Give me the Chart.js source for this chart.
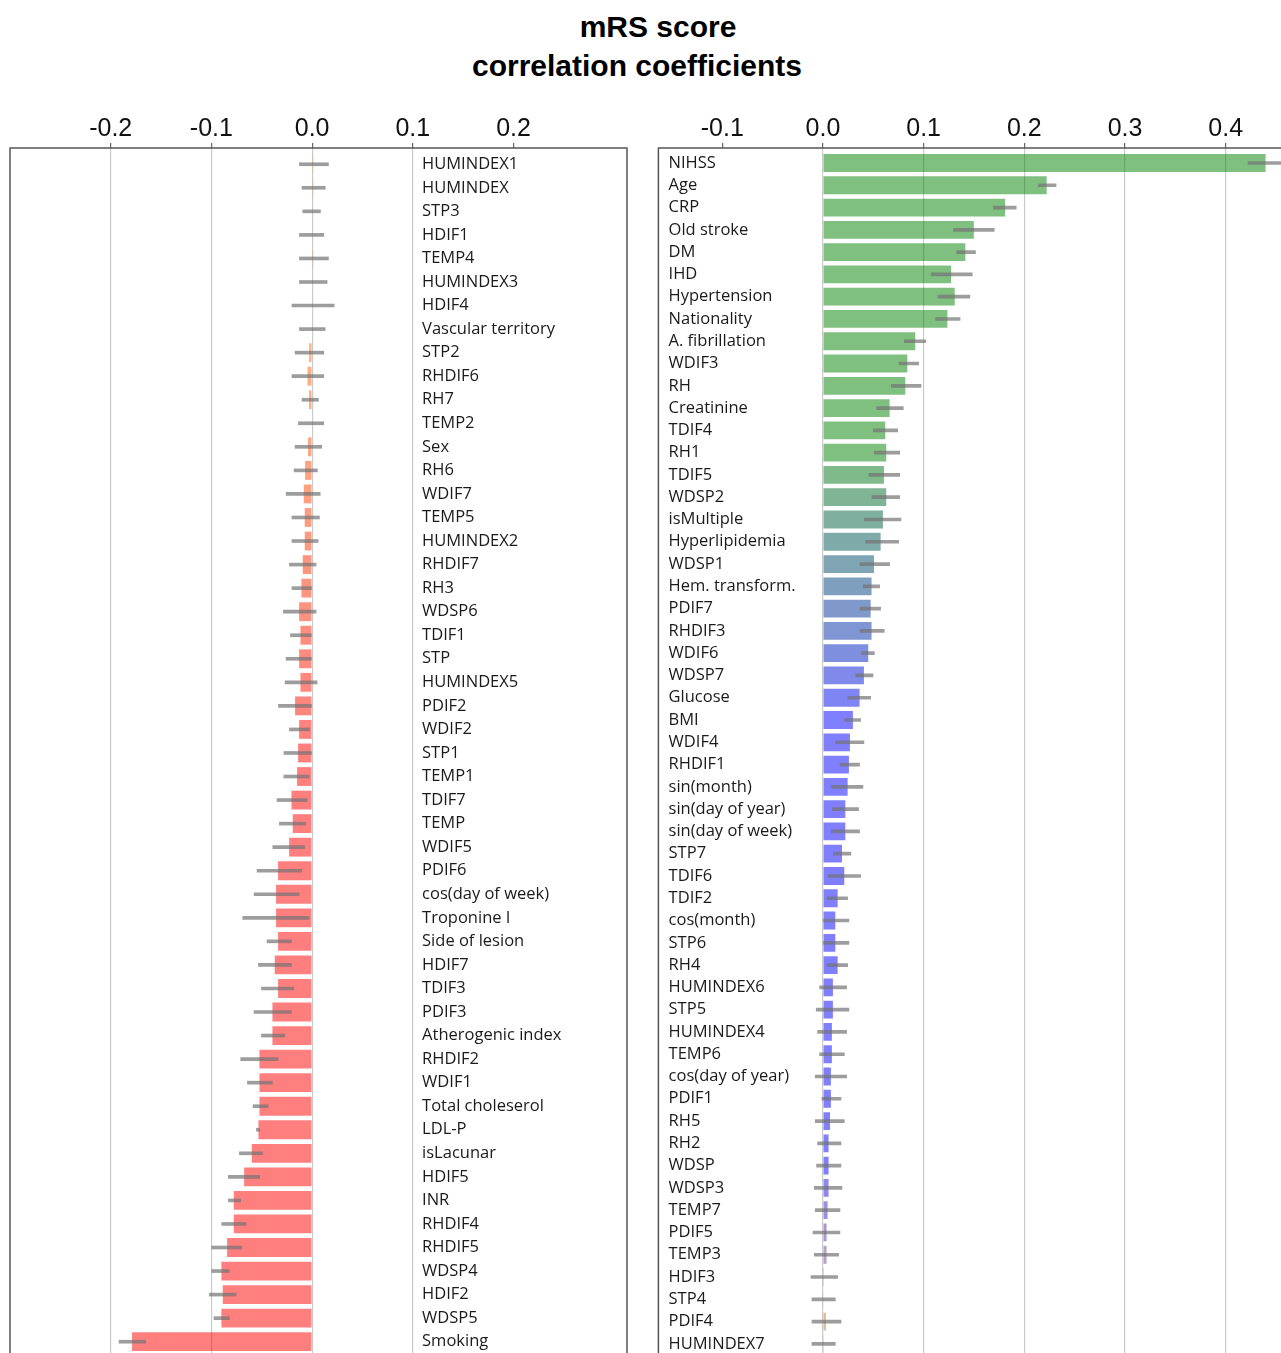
<!DOCTYPE html>
<html><head><meta charset="utf-8">
<script src="https://cdn.jsdelivr.net/npm/chart.js@4.4.1/dist/chart.umd.min.js"></script>
<style>
html,body{margin:0;padding:0;background:#fff;width:1281px;height:1353px;overflow:hidden;}
#wrap{position:relative;width:1281px;height:1353px;}
.t{position:absolute;font:bold 30px "Liberation Sans",Arial,sans-serif;color:#000;white-space:nowrap;transform:translateX(-50%);line-height:30px;}
canvas{position:absolute;top:0;}
</style></head><body>
<div id="wrap">
<div class="t" style="left:658px;top:12px">mRS score</div>
<div class="t" style="left:637px;top:51px">correlation coefficients</div>
<canvas id="cl" width="640" height="1353" style="left:0;width:640px;height:1353px"></canvas>
<canvas id="cr" width="641" height="1353" style="left:640px;width:641px;height:1353px"></canvas>
</div>
<script>
// ---------- DATA ----------
const leftLabels = ["HUMINDEX1","HUMINDEX","STP3","HDIF1","TEMP4","HUMINDEX3","HDIF4","Vascular territory","STP2","RHDIF6","RH7","TEMP2","Sex","RH6","WDIF7","TEMP5","HUMINDEX2","RHDIF7","RH3","WDSP6","TDIF1","STP","HUMINDEX5","PDIF2","WDIF2","STP1","TEMP1","TDIF7","TEMP","WDIF5","PDIF6","cos(day of week)","Troponine I","Side of lesion","HDIF7","TDIF3","PDIF3","Atherogenic index","RHDIF2","WDIF1","Total choleserol","LDL-P","isLacunar","HDIF5","INR","RHDIF4","RHDIF5","WDSP4","HDIF2","WDSP5","Smoking"];
const leftValues = [0.001,0.001,0.0,0.0,0.001,0.0,0.0,0.0,-0.003,-0.0046,-0.003,0.0,-0.004,-0.007,-0.0083,-0.0073,-0.0073,-0.0093,-0.0106,-0.0129,-0.0116,-0.0129,-0.0116,-0.0169,-0.0129,-0.0139,-0.0149,-0.0205,-0.0192,-0.0228,-0.0338,-0.0358,-0.0358,-0.0338,-0.0371,-0.0338,-0.0394,-0.0394,-0.0523,-0.0523,-0.0523,-0.0533,-0.0599,-0.0675,-0.0778,-0.0778,-0.0844,-0.0901,-0.0887,-0.0901,-0.1788];
const leftErrLow = [-0.0126,-0.010,-0.0093,-0.0126,-0.0126,-0.0126,-0.020,-0.0126,-0.0169,-0.020,-0.010,-0.0136,-0.0169,-0.0179,-0.0258,-0.020,-0.020,-0.0225,-0.020,-0.0285,-0.0215,-0.0258,-0.0268,-0.0334,-0.0225,-0.028,-0.0281,-0.0348,-0.0325,-0.039,-0.0546,-0.0576,-0.0689,-0.0447,-0.0533,-0.0503,-0.0576,-0.0503,-0.0709,-0.0642,-0.0586,-0.0553,-0.0722,-0.0831,-0.0831,-0.0897,-0.0997,-0.0997,-0.102,-0.0974,-0.1917];
const leftErrHigh = [0.0162,0.013,0.0083,0.0116,0.0162,0.0149,0.0219,0.0129,0.0116,0.0116,0.0063,0.0116,0.0096,0.0053,0.008,0.0073,0.006,0.004,0.0,0.004,-0.0007,-0.0007,0.005,0.0,-0.0026,0.0,-0.003,-0.005,-0.0063,-0.0073,-0.0103,-0.0129,-0.003,-0.0205,-0.0205,-0.0182,-0.0205,-0.0272,-0.0338,-0.0394,-0.0437,-0.052,-0.0493,-0.052,-0.0709,-0.0656,-0.0699,-0.0821,-0.0755,-0.0821,-0.1652];

const rightLabels = ["NIHSS","Age","CRP","Old stroke","DM","IHD","Hypertension","Nationality","A. fibrillation","WDIF3","RH","Creatinine","TDIF4","RH1","TDIF5","WDSP2","isMultiple","Hyperlipidemia","WDSP1","Hem. transform.","PDIF7","RHDIF3","WDIF6","WDSP7","Glucose","BMI","WDIF4","RHDIF1","sin(month)","sin(day of year)","sin(day of week)","STP7","TDIF6","TDIF2","cos(month)","STP6","RH4","HUMINDEX6","STP5","HUMINDEX4","TEMP6","cos(day of year)","PDIF1","RH5","RH2","WDSP","WDSP3","TEMP7","PDIF5","TEMP3","HDIF3","STP4","PDIF4","HUMINDEX7"];
const rightValues = [0.4396,0.2222,0.181,0.1499,0.1414,0.1273,0.1309,0.1236,0.0917,0.0838,0.0818,0.0662,0.0619,0.0629,0.0606,0.0629,0.0596,0.0573,0.0507,0.0483,0.0474,0.0483,0.045,0.0407,0.0364,0.0298,0.0268,0.0258,0.0245,0.0222,0.0222,0.0189,0.0212,0.0146,0.0123,0.0123,0.0146,0.0099,0.0099,0.0089,0.0089,0.0079,0.0079,0.007,0.0056,0.0056,0.0056,0.0046,0.0036,0.0036,0.001,0.0007,0.003,0.001];
const rightErrLow = [0.4222,0.2141,0.1693,0.1297,0.1329,0.1075,0.1143,0.1119,0.0808,0.0755,0.0679,0.0533,0.05,0.051,0.0457,0.0487,0.0411,0.0424,0.0368,0.0401,0.0368,0.0368,0.0384,0.0325,0.0248,0.0215,0.0126,0.0169,0.0083,0.0093,0.0083,0.0103,0.005,0.004,0.0,0.0,0.004,-0.0033,-0.0066,-0.0053,-0.0033,-0.0076,-0.001,-0.0076,-0.0053,-0.0063,-0.0086,-0.0076,-0.0099,-0.0086,-0.0119,-0.0109,-0.0109,-0.0109];
const rightErrHigh = [0.458,0.2315,0.1919,0.1701,0.1515,0.1483,0.1459,0.1362,0.102,0.095,0.0974,0.0798,0.0742,0.0762,0.0762,0.0762,0.0775,0.0752,0.0662,0.0563,0.0573,0.0609,0.051,0.0497,0.0474,0.0374,0.0407,0.0364,0.0397,0.0354,0.0364,0.0278,0.0374,0.0245,0.0258,0.0258,0.0245,0.0235,0.0258,0.0235,0.0212,0.0235,0.0179,0.0212,0.0179,0.0179,0.0189,0.0169,0.0169,0.0156,0.0146,0.0123,0.0179,0.0123];

const leftTicks = [-0.2, -0.1, 0.0, 0.1, 0.2];
const rightTicks = [-0.1, 0.0, 0.1, 0.2, 0.3, 0.4];

// ---------- STYLE ----------
const colorStops = [[0,[0,128,0]],[13,[0,128,0]],[25,[0,0,255]],[45,[0,0,255]],[54,[255,150,0]],[79,[255,0,0]],[104,[255,0,0]]];
function rankColor(r){
  for (let k = 0; k < colorStops.length - 1; k++){
    const [r0,c0] = colorStops[k], [r1,c1] = colorStops[k+1];
    if (r >= r0 && r <= r1){
      const t = r1 === r0 ? 0 : (r - r0) / (r1 - r0);
      const c = c0.map((v,j) => Math.round(v + (c1[j]-v)*t));
      return `rgba(${c[0]},${c[1]},${c[2]},0.5)`;
    }
  }
  return 'rgba(255,0,0,0.5)';
}

const framePlugin = {
  id: 'frame',
  afterDraw(chart, args, opts){
    const {ctx, chartArea: a} = chart;
    ctx.save();
    ctx.strokeStyle = '#555';
    ctx.lineWidth = 1.5;
    ctx.beginPath();
    ctx.moveTo(a.left, a.bottom); ctx.lineTo(a.left, a.top); ctx.lineTo(a.right, a.top);
    if (opts.right) ctx.lineTo(a.right, a.bottom);
    ctx.stroke();
    ctx.restore();
  }
};
const rowLabelPlugin = {
  id: 'rowLabels',
  afterDatasetsDraw(chart, args, opts){
    const {ctx} = chart;
    const xs = chart.scales.x, ys = chart.scales.y;
    const x = xs.getPixelForValue(opts.at);
    ctx.save();
    ctx.font = '16.5px "Open Sans", sans-serif';
    ctx.fillStyle = '#1a1a1a';
    ctx.textAlign = 'left';
    ctx.textBaseline = 'middle';
    chart.data.labels.forEach((t, i) => ctx.fillText(t, x, ys.getPixelForValue(i)));
    ctx.restore();
  }
};

function makeChart(id, c){
  return new Chart(document.getElementById(id), {
    type: 'bar',
    data: {
      labels: c.labels,
      datasets: [
        { label: 'error', data: c.labels.map((_, i) => ({x: [c.lo[i], c.hi[i]], y: i})),
          backgroundColor: 'rgba(115,115,115,0.7)', barThickness: 3, grouped: false, order: 0 },
        { label: 'coefficient', data: c.labels.map((_, i) => ({x: c.values[i], y: i})),
          backgroundColor: ctx => rankColor(c.rankOffset + ctx.dataIndex),
          barPercentage: 0.8, categoryPercentage: 1, grouped: false, order: 1 }
      ]
    },
    options: {
      indexAxis: 'y', responsive: false, animation: false, events: [],
      layout: { padding: c.pad },
      plugins: { legend: {display: false}, tooltip: {enabled: false},
        frame: { right: c.frameRight }, rowLabels: { at: c.labelAt } },
      scales: {
        x: { type: 'linear', position: 'top', min: c.xMin, max: c.xMax, offset: false,
          afterBuildTicks: s => { s.ticks = c.ticks.map(v => ({value: v})); },
          ticks: { font: {family: '"Liberation Sans", Arial, sans-serif', size: 25, lineHeight: 1.05},
                   color: '#111', padding: 1, maxRotation: 0, autoSkip: false,
                   callback: v => Number(v).toFixed(1) },
          grid: { offset: false, color: g => (g.tick && c.noGrid.includes(g.tick.value)) ? 'rgba(0,0,0,0)' : '#cbcbcb',
                  tickColor: '#666', tickLength: 5, lineWidth: 1.2 },
          border: { display: false } },
        y: { type: 'linear', reverse: true, min: c.yMin, max: c.yMax, display: false, offset: false,
          grid: { offset: false },
          afterBuildTicks: s => { s.ticks = c.labels.map((_, i) => ({value: i})); } }
      }
    },
    plugins: [framePlugin, rowLabelPlugin]
  });
}

makeChart('cl', { labels: leftLabels, values: leftValues, lo: leftErrLow, hi: leftErrHigh,
  ticks: leftTicks, noGrid: [0.2], xMin: -0.3, xMax: 0.3127, yMin: -0.69, yMax: 50.48,
  rankOffset: 54, labelAt: 0.1092, frameRight: true,
  pad: {top: 114.75, left: 10, right: 13, bottom: 0} });
makeChart('cr', { labels: rightLabels, values: rightValues, lo: rightErrLow, hi: rightErrHigh,
  ticks: rightTicks, noGrid: [-0.1], xMin: -0.1634, xMax: 0.4549, yMin: -0.673, yMax: 53.41,
  rankOffset: 0, labelAt: -0.1533, frameRight: false,
  pad: {top: 114.75, left: 18.4, right: 0, bottom: 0} });
</script>
</body></html>
